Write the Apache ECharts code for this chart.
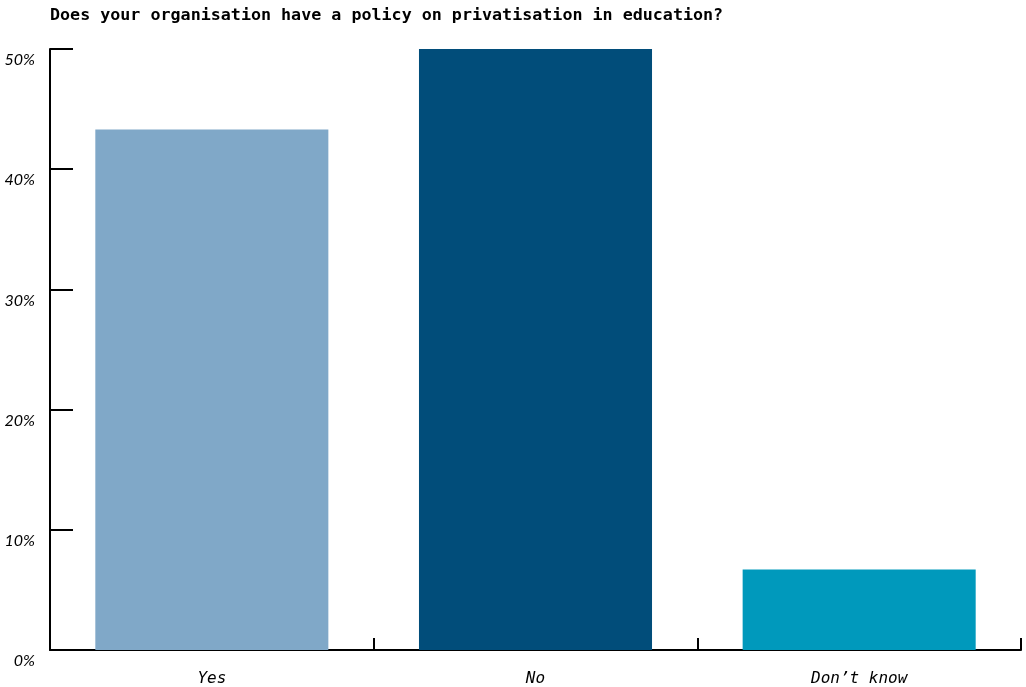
<!DOCTYPE html>
<html>
<head>
<meta charset="utf-8">
<script src="https://cdn.jsdelivr.net/npm/echarts@6/dist/echarts.min.js"></script>
<style>
  html, body { margin: 0; padding: 0; background: #ffffff; }
  #chart { width: 1026px; height: 687px; }
</style>
</head>
<body>
<div id="chart"></div>
<script>
const titleText = 'Does your organisation have a policy on privatisation in education?';
const categories = ['Yes', 'No', 'Don\u2019t know'];
const shares = [43.3, 50.0, 6.7];
const barColors = ['#80a8c8', '#014d7a', '#0099bc'];
const yTicks = [0, 10, 20, 30, 40, 50];

const chart = echarts.init(document.getElementById('chart'));
chart.setOption({
  animation: false,
  backgroundColor: '#ffffff',
  title: {
    text: titleText,
    left: 50,
    top: 7,
    padding: 0,
    textStyle: {
      fontFamily: 'DejaVu Sans Mono',
      fontWeight: 'bold',
      fontSize: 16.7,
      color: '#000000'
    }
  },
  grid: { left: 50, right: 5, top: 49, bottom: 37, containLabel: false },
  xAxis: {
    type: 'category',
    data: categories,
    axisLine: { lineStyle: { color: '#000000', width: 2 } },
    axisTick: { show: true, inside: true, length: 12, alignWithLabel: false, lineStyle: { color: '#000000', width: 2 } },
    axisLabel: {
      margin: 21,
      fontFamily: 'DejaVu Sans Mono',
      fontStyle: 'italic',
      fontSize: 16,
      color: '#000000'
    }
  },
  yAxis: {
    type: 'value',
    min: yTicks[0],
    max: yTicks[yTicks.length - 1],
    interval: 10,
    splitLine: { show: false },
    axisLine: { show: true, lineStyle: { color: '#000000', width: 2 } },
    axisTick: { show: true, inside: true, length: 23, lineStyle: { color: '#000000', width: 2 } },
    axisLabel: {
      margin: 15,
      verticalAlign: 'top',
      lineHeight: 22,
      fontFamily: 'Lato',
      fontStyle: 'italic',
      fontSize: 16,
      color: '#000000',
      formatter: v => v + '%'
    }
  },
  series: [{
    type: 'bar',
    barWidth: '72%',
    data: shares.map((v, i) => ({ value: v, itemStyle: { color: barColors[i] } }))
  }]
});
</script>
</body>
</html>
